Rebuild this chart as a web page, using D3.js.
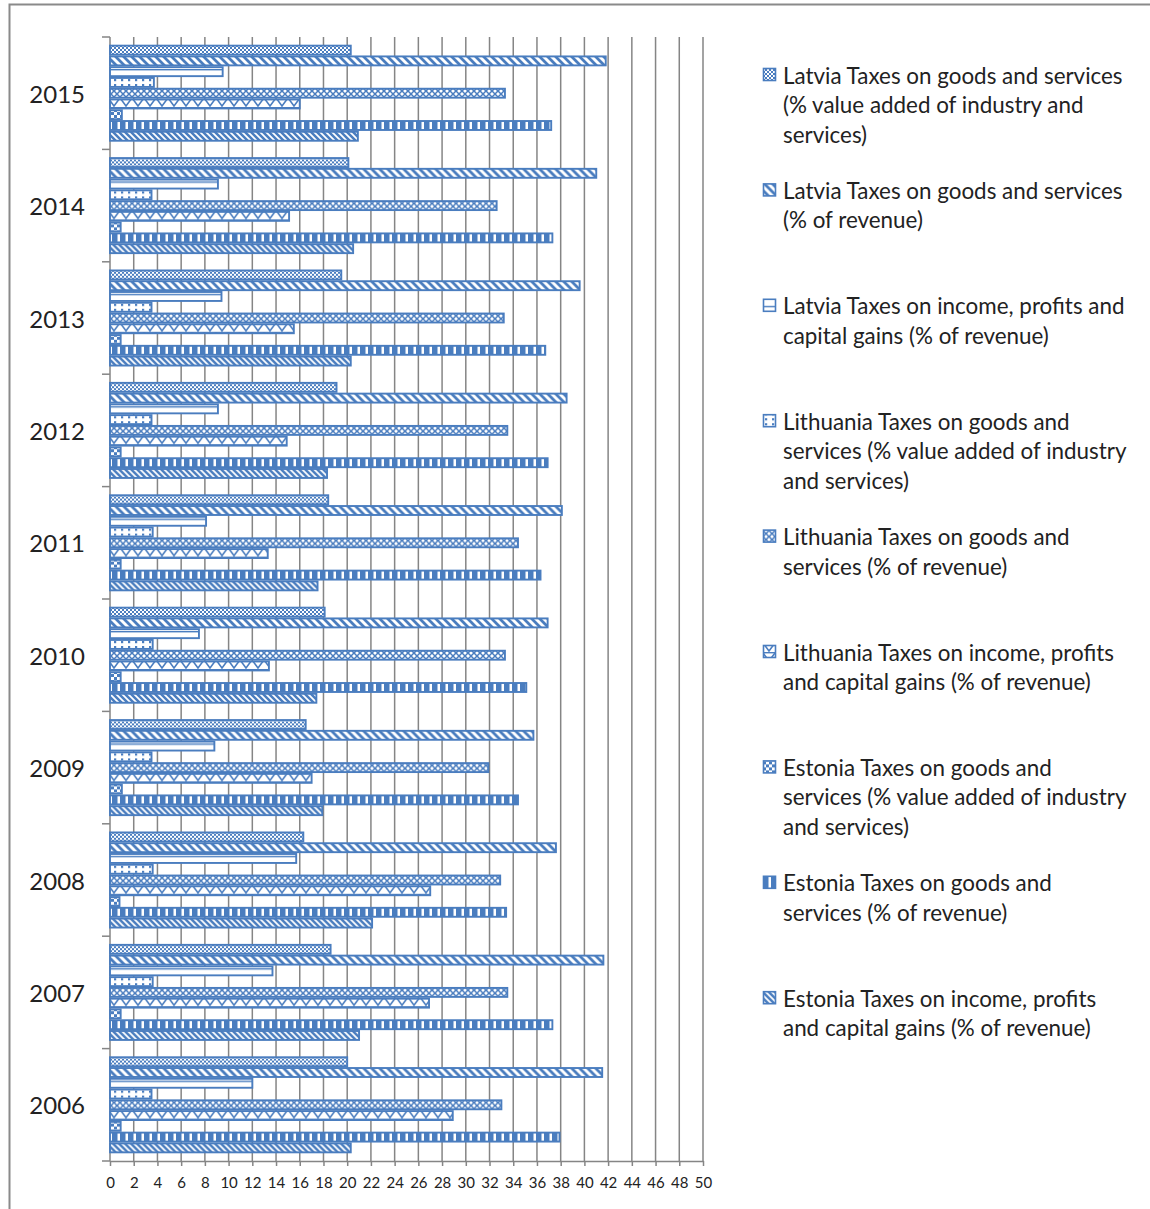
<!DOCTYPE html>
<html lang="en">
<head>
<meta charset="UTF-8">
<title>Baltic taxes</title>
<script src="https://d3js.org/d3.v7.min.js"></script>
<style>
  html, body { margin: 0; padding: 0; background: #fff; }
  text { font-family: Lato, "Open Sans", sans-serif; fill: #222; }
</style>
</head>
<body>
<div id="chart"></div>
<script>
// years, bottom to top
const years = [2006, 2007, 2008, 2009, 2010, 2011, 2012, 2013, 2014, 2015];

// one array per series, values in the order of years
const latviaGoodsVA   = [20.0, 18.6, 16.3, 16.5, 18.1, 18.4, 19.1, 19.5, 20.1, 20.3];
const latviaGoodsRev  = [41.5, 41.6, 37.6, 35.7, 36.9, 38.1, 38.5, 39.6, 41.0, 41.8];
const latviaIncome    = [12.0, 13.7, 15.7, 8.8, 7.5, 8.1, 9.1, 9.4, 9.1, 9.5];
const lithGoodsVA     = [3.5, 3.6, 3.6, 3.5, 3.6, 3.6, 3.5, 3.5, 3.5, 3.7];
const lithGoodsRev    = [33.0, 33.5, 32.9, 31.9, 33.3, 34.4, 33.5, 33.2, 32.6, 33.3];
const lithIncome      = [28.9, 26.9, 27.0, 17.0, 13.4, 13.3, 14.9, 15.5, 15.1, 16.0];
const estGoodsVA      = [0.9, 0.9, 0.8, 1.0, 0.9, 0.9, 0.9, 0.9, 0.9, 1.0];
const estGoodsRev     = [37.9, 37.3, 33.4, 34.4, 35.1, 36.3, 36.9, 36.7, 37.3, 37.2];
const estIncome       = [20.3, 21.0, 22.1, 17.9, 17.4, 17.5, 18.3, 20.3, 20.5, 20.9];

const seriesValues = [latviaGoodsVA, latviaGoodsRev, latviaIncome,
                      lithGoodsVA, lithGoodsRev, lithIncome,
                      estGoodsVA, estGoodsRev, estIncome];

// legend labels, already wrapped like the original
const legendLabels = [
  ["Latvia Taxes on goods and services", "(% value added of industry and", "services)"],
  ["Latvia Taxes on goods and services", "(% of revenue)"],
  ["Latvia Taxes on income, profits and", "capital gains (% of revenue)"],
  ["Lithuania Taxes on goods and", "services (% value added of industry", "and services)"],
  ["Lithuania Taxes on goods and", "services (% of revenue)"],
  ["Lithuania Taxes on income, profits", "and capital gains (% of revenue)"],
  ["Estonia Taxes on goods and", "services (% value added of industry", "and services)"],
  ["Estonia Taxes on goods and", "services (% of revenue)"],
  ["Estonia Taxes on income, profits", "and capital gains (% of revenue)"]
];

const xTicks = d3.range(0, 51, 2);

const width = 1150, height = 1209;
const blue = "#4a7dbf";
const gridGray = "#858585";

const svg = d3.select("#chart").append("svg")
  .attr("width", width)
  .attr("height", height);

// fill patterns, one per series
const defs = svg.append("defs");
function pattern(id, w, h, draw) {
  const p = defs.append("pattern")
    .attr("id", id)
    .attr("patternUnits", "userSpaceOnUse")
    .attr("width", w).attr("height", h);
  p.append("rect").attr("width", w).attr("height", h).attr("fill", "#fff");
  draw(p);
}
// small checker board
pattern("p0", 4, 4, p => {
  p.append("rect").attr("width", 2).attr("height", 2).attr("fill", blue);
  p.append("rect").attr("x", 2).attr("y", 2).attr("width", 2).attr("height", 2).attr("fill", blue);
});
// wide downward diagonal
pattern("p1", 8, 8, p => {
  p.append("path").attr("d", "M-2,-2L10,10M-2,6L2,10M6,-2L10,2")
    .attr("stroke", blue).attr("stroke-width", 2.8);
});
// horizontal line
pattern("p2", 8, 8, p => {
  p.append("rect").attr("y", 0).attr("width", 8).attr("height", 1.4).attr("fill", blue);
});
// sparse dots
pattern("p3", 7, 5, p => {
  p.append("rect").attr("x", 2).attr("y", 2).attr("width", 2.2).attr("height", 2.2).attr("fill", blue);
});
// dotted diamond
pattern("p4", 6, 6, p => {
  p.append("path").attr("d", "M0,0L6,6M6,0L0,6")
    .attr("stroke", blue).attr("stroke-width", 1.5);
  p.append("rect").attr("x", 2).attr("y", 2).attr("width", 2).attr("height", 2).attr("fill", blue);
});
// zigzag
pattern("p5", 12, 10, p => {
  p.append("path").attr("d", "M0,1L6,9L12,1")
    .attr("fill", "none").attr("stroke", blue).attr("stroke-width", 1.6);
  p.append("rect").attr("width", 12).attr("height", 1.4).attr("fill", blue);
});
// large checker
pattern("p6", 6, 6, p => {
  p.append("rect").attr("width", 3).attr("height", 3).attr("fill", blue);
  p.append("rect").attr("x", 3).attr("y", 3).attr("width", 3).attr("height", 3).attr("fill", blue);
});
// wide vertical
pattern("p7", 8, 8, p => {
  p.append("rect").attr("width", 5.5).attr("height", 8).attr("fill", blue);
});
// wide diagonal
pattern("p8", 6, 6, p => {
  p.append("path").attr("d", "M-1.5,-1.5L7.5,7.5M-1.5,4.5L1.5,7.5M4.5,-1.5L7.5,1.5")
    .attr("stroke", blue).attr("stroke-width", 2.5);
});

// chart frame
svg.append("rect")
  .attr("x", 9.5).attr("y", 4.5)
  .attr("width", width).attr("height", height)
  .attr("fill", "none").attr("stroke", "#8a8a8a").attr("stroke-width", 2);

// scales
const x = d3.scaleLinear().domain([0, 50]).range([110, 703]);
const y0 = d3.scaleBand()
  .domain(years.slice().reverse())
  .range([37, 1161])
  .padding(0);
const y1 = d3.scaleBand()
  .domain(d3.range(seriesValues.length))
  .range([0, y0.bandwidth()])
  .paddingInner(0)
  .paddingOuter(0.72);

// vertical gridlines
svg.append("g")
  .selectAll("line")
  .data(xTicks.slice(1))
  .join("line")
  .attr("x1", d => x(d)).attr("x2", d => x(d))
  .attr("y1", 37).attr("y2", 1161)
  .attr("stroke", gridGray).attr("stroke-width", 1.5);

// x axis
const xAxis = svg.append("g")
  .attr("transform", "translate(0,1161)")
  .call(d3.axisBottom(x).tickValues(xTicks).tickSize(5).tickPadding(11).tickSizeOuter(0));
xAxis.select(".domain").attr("stroke", gridGray).attr("stroke-width", 1.5);
xAxis.selectAll(".tick line").attr("stroke", gridGray).attr("stroke-width", 1.5);
xAxis.selectAll("text")
  .style("font-family", "Lato, 'Open Sans', sans-serif")
  .style("font-size", "15px").attr("fill", "#222");

// y axis: ticks on the category boundaries
const yAxis = svg.append("g").attr("transform", "translate(110,0)");
yAxis.append("line")
  .attr("y1", 37).attr("y2", 1161)
  .attr("stroke", gridGray).attr("stroke-width", 1.5);
yAxis.selectAll("line.tk")
  .data(years.concat([null]))
  .join("line")
  .attr("class", "tk")
  .attr("x1", -8).attr("x2", 0)
  .attr("y1", (d, i) => i < years.length ? y0(d) + y0.bandwidth() : 37)
  .attr("y2", (d, i) => i < years.length ? y0(d) + y0.bandwidth() : 37)
  .attr("stroke", gridGray).attr("stroke-width", 1.5);
yAxis.selectAll("text")
  .data(years)
  .join("text")
  .attr("x", -25)
  .attr("y", d => y0(d) + y0.bandwidth() / 2)
  .attr("text-anchor", "end")
  .attr("dominant-baseline", "central")
  .style("font-size", "24px")
  .text(d => d);

// bars
const groups = svg.append("g")
  .selectAll("g")
  .data(years)
  .join("g")
  .attr("transform", d => `translate(0,${y0(d)})`);

groups.selectAll("rect")
  .data((yr, yi) => seriesValues.map((vals, si) => ({ si, v: vals[yi] })))
  .join("rect")
  .attr("x", x(0))
  .attr("y", d => y1(d.si) + 0.9)
  .attr("width", d => x(d.v) - x(0))
  .attr("height", y1.bandwidth() - 1.8)
  .attr("fill", d => `url(#p${d.si})`)
  .attr("stroke", blue)
  .attr("stroke-width", 1.9);

// legend
const legend = svg.append("g")
  .selectAll("g")
  .data(legendLabels)
  .join("g")
  .attr("transform", (d, i) => `translate(763,${75 + i * 115.4})`);

legend.append("rect")
  .attr("x", 0.5).attr("y", -6.5)
  .attr("width", 12).attr("height", 12)
  .attr("fill", (d, i) => `url(#p${i})`)
  .attr("stroke", blue).attr("stroke-width", 1.6);

legend.each(function(lines) {
  const t = d3.select(this).append("text")
    .attr("x", 20)
    .style("font-size", "22.4px");
  lines.forEach((ln, k) => {
    t.append("tspan")
      .attr("x", 20)
      .attr("y", k * 29.6)
      .attr("dominant-baseline", "central")
      .text(ln);
  });
});
</script>
</body>
</html>
